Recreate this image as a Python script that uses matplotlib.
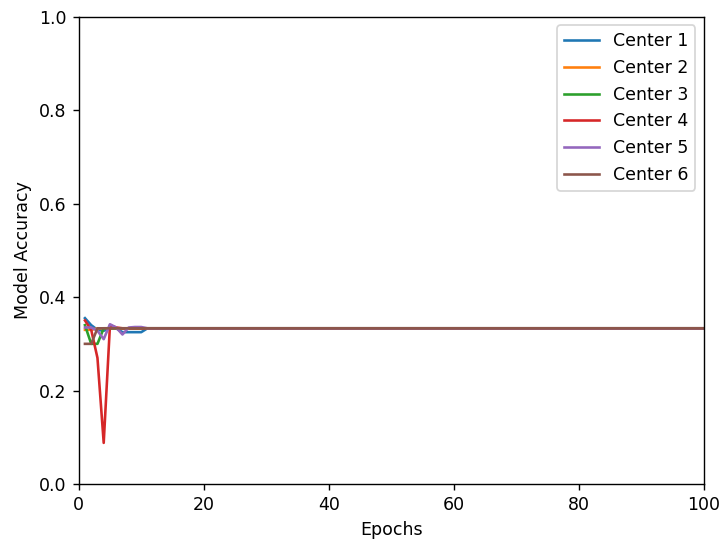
import matplotlib
matplotlib.use("Agg")
import matplotlib.pyplot as plt
import numpy as np

n_epochs = 100
flat = 0.3333

# early-epoch accuracy per center, then flat for the rest of training
center1_start = [0.355, 0.34, 0.33, 0.328, 0.333, 0.333, 0.325, 0.325, 0.325, 0.325]
center2_start = [0.33, 0.33, 0.333]
center3_start = [0.34, 0.30, 0.30]
center4_start = [0.35, 0.33, 0.27, 0.088, 0.34, 0.335]
center5_start = [0.335, 0.335, 0.328, 0.31, 0.342, 0.335, 0.32, 0.335, 0.336, 0.336]
center6_start = [0.30, 0.30]

starts = [center1_start, center2_start, center3_start,
          center4_start, center5_start, center6_start]
labels = ["Center 1", "Center 2", "Center 3", "Center 4", "Center 5", "Center 6"]

epochs = np.arange(1, n_epochs + 1)

fig, ax = plt.subplots(figsize=(722 / 125, 542 / 125), dpi=125)
for vals, lab in zip(starts, labels):
    acc = list(vals) + [flat] * (n_epochs - len(vals))
    ax.plot(epochs, acc, label=lab)

ax.set_xlim(0, 100)
ax.set_ylim(0, 1.0)
ax.set_xlabel("Epochs")
ax.set_ylabel("Model Accuracy")
ax.legend(loc="upper right")

plt.subplots_adjust(left=0.109, right=0.975, bottom=0.107, top=0.969)
plt.savefig("out.png", dpi=125)
